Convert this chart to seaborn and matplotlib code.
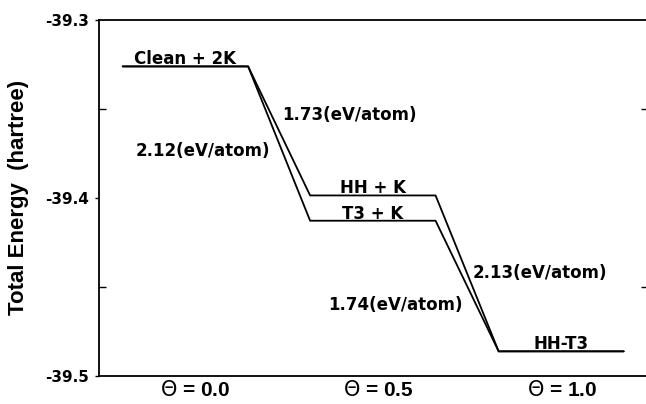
import pandas as pd
import matplotlib.pyplot as plt
from matplotlib.ticker import FixedLocator
import seaborn as sns

# energy levels (hartree)
level_names = ["Clean + 2K", "HH + K", "T3 + K", "HH-T3"]
level_energy = [-39.3262, -39.3987, -39.4129, -39.4863]
level_x_start = [-0.197, 0.314, 0.314, 0.828]
level_x_end = [0.145, 0.656, 0.656, 1.169]

# two reaction paths through the levels
path_names = ["via HH", "via T3"]
path_levels = [[0, 1, 3], [0, 2, 3]]

# adsorption energies on the steps
step_labels = ["1.73(eV/atom)", "2.12(eV/atom)", "2.13(eV/atom)", "1.74(eV/atom)"]
step_label_x = [0.238, -0.162, 0.758, 0.362]
step_label_y = [-39.3535, -39.3740, -39.4425, -39.4605]

theta_ticks = [0.0, 0.5, 1.0]
theta_labels = [r"$\Theta$ = 0.0", r"$\Theta$ = 0.5", r"$\Theta$ = 1.0"]

# ---------------------------------------------------------
# build a long table: one row per line vertex
# ---------------------------------------------------------
rows = []
for name, lv in zip(path_names, path_levels):
    order = 0
    for i in lv:
        for xx in (level_x_start[i], level_x_end[i]):
            rows.append({"path": name, "x": xx, "E": level_energy[i], "order": order})
            order += 1
df = pd.DataFrame(rows)

sns.set_theme(style="ticks")
plt.rcParams["font.family"] = ["DejaVu Sans"]
plt.rcParams["mathtext.fontset"] = "dejavusans"
for k in ("text.color", "axes.labelcolor", "xtick.color", "ytick.color", "axes.edgecolor"):
    plt.rcParams[k] = "black"

fig = plt.figure(figsize=(6.46, 4.04), dpi=100)
ax = fig.add_axes([0.153, 0.070, 0.85, 0.881])

sns.lineplot(data=df, x="x", y="E", units="path", estimator=None, sort=False,
             color="black", linewidth=1.3, ax=ax)

for name, e, x0, x1 in zip(level_names, level_energy, level_x_start, level_x_end):
    ax.text((x0 + x1) / 2, e + 0.0012, name, ha="center", va="baseline",
            fontsize=12, fontweight="bold")

for txt, xx, yy in zip(step_labels, step_label_x, step_label_y):
    ax.text(xx, yy, txt, ha="left", va="center", fontsize=12, fontweight="bold")

ax.set_xlim(-0.262, 1.235)
ax.set_ylim(-39.5, -39.3)
ax.set_xticks(theta_ticks)
ax.set_xticklabels(theta_labels, fontsize=15, fontweight="bold",
                   family=["Liberation Sans"])
ax.tick_params(axis="x", length=0, pad=3)
ax.set_yticks([-39.5, -39.4, -39.3])
ax.set_yticklabels(["-39.5", "-39.4", "-39.3"], fontsize=11, fontweight="bold")
ax.yaxis.set_minor_locator(FixedLocator([-39.45, -39.35]))
ax.tick_params(axis="y", which="major", direction="out", length=3, width=1, pad=4)
ax.tick_params(axis="y", which="minor", direction="in", length=5, width=1,
               left=True, right=True)
ax.set_xlabel("")
ax.set_ylabel("Total Energy  (hartree)", fontsize=16, fontweight="bold",
              family=["Liberation Sans"], labelpad=12)
for s in ax.spines.values():
    s.set_linewidth(1.3)
    s.set_color("black")

fig.savefig("out.png", dpi=100)
